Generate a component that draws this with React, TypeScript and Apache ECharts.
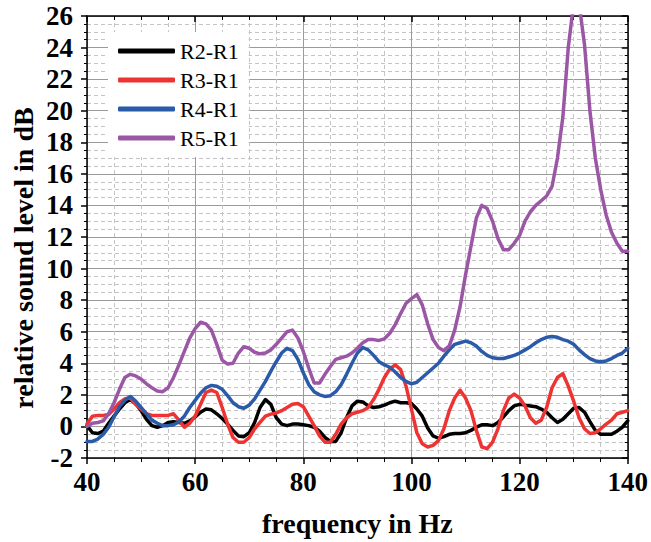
import React, { useEffect, useRef } from "react";
import * as echarts from "echarts";

const freqs: number[] = Array.from({ length: 101 }, (_, i) => 40 + i);

const r2r1: number[] = [
  0.05, -0.4, -0.45, -0.3, 0.2, 0.65, 1.1, 1.5, 1.7, 1.45,
  1.0, 0.45, 0.05, -0.05, 0.05, 0.25, 0.3, 0.25, 0.2, 0.35,
  0.6, 0.9, 1.1, 1.05, 0.8, 0.5, 0.15, -0.25, -0.6, -0.65,
  -0.4, 0.25, 1.2, 1.7, 1.4, 0.55, 0.15, 0.05, 0.15, 0.15,
  0.1, 0.05, -0.05, -0.3, -0.7, -0.95, -0.95, -0.4, 0.55, 1.3,
  1.6, 1.55, 1.3, 1.2, 1.25, 1.35, 1.5, 1.6, 1.5, 1.5,
  1.45, 1.1, 0.65, -0.1, -0.6, -0.75, -0.65, -0.5, -0.45, -0.45,
  -0.4, -0.25, -0.05, 0.1, 0.1, 0.05, 0.25, 0.6, 1.0, 1.3,
  1.4, 1.35, 1.3, 1.25, 1.1, 0.9, 0.55, 0.25, 0.45, 0.8,
  1.15, 1.2, 0.9, 0.3, -0.25, -0.5, -0.5, -0.5, -0.3, -0.05,
  0.35,
];

const r3r1: number[] = [
  0.15, 0.65, 0.7, 0.7, 0.75, 1.1, 1.5, 1.75, 1.8, 1.4,
  1.1, 0.8, 0.7, 0.7, 0.7, 0.7, 0.8, 0.4, -0.05, 0.2,
  0.65, 1.4, 2.15, 2.3, 2.15, 1.2, 0.15, -0.7, -1.0, -1.0,
  -0.7, -0.15, 0.25, 0.65, 0.78, 0.85, 1.0, 1.2, 1.4, 1.45,
  1.25, 0.65, 0.05, -0.6, -1.0, -1.0, -0.5, 0.15, 0.55, 0.8,
  0.9, 1.0, 1.2, 1.7, 2.35, 3.1, 3.65, 3.9, 3.6, 2.55,
  1.1, -0.4, -1.1, -1.3, -1.2, -0.9, -0.15, 1.0, 1.8, 2.3,
  1.8, 1.0, -0.25, -1.3, -1.4, -1.0, -0.15, 1.0, 1.8, 2.05,
  1.8, 1.3, 0.55, 0.2, 0.4, 1.2, 2.45, 3.1, 3.35, 2.55,
  1.6, 0.55, -0.15, -0.45, -0.4, -0.15, 0.15, 0.4, 0.8, 0.9,
  1.0,
];

const r4r1: number[] = [
  -0.95, -0.95, -0.8, -0.5, -0.05, 0.6, 1.25, 1.65, 1.9, 1.6,
  1.2, 0.8, 0.4, 0.2, 0.05, 0.05, 0.1, 0.3, 0.65, 1.2,
  1.65, 2.1, 2.45, 2.6, 2.55, 2.35, 1.95, 1.5, 1.25, 1.15,
  1.35, 1.75, 2.3, 2.85, 3.5, 4.1, 4.65, 4.95, 4.8, 4.25,
  3.4, 2.65, 2.2, 2.0, 1.9, 1.95, 2.2, 2.65, 3.3, 4.0,
  4.65, 5.0, 4.85, 4.5, 4.1, 3.9, 3.75, 3.45, 3.1, 2.85,
  2.7, 2.8, 3.1, 3.4, 3.7, 4.0, 4.45, 4.85, 5.2, 5.3,
  5.4, 5.3, 5.1, 4.75, 4.5, 4.35, 4.3, 4.3, 4.4, 4.5,
  4.65, 4.85, 5.05, 5.3, 5.5, 5.65, 5.7, 5.65, 5.5, 5.4,
  5.2, 4.85, 4.55, 4.3, 4.15, 4.1, 4.15, 4.3, 4.5, 4.65,
  4.95,
];

const r5r1: number[] = [
  0.0, 0.2, 0.25, 0.35, 0.8, 1.5, 2.35, 3.1, 3.3, 3.2,
  3.0, 2.7, 2.45, 2.25, 2.2, 2.45, 3.1, 3.9, 4.75, 5.6,
  6.2, 6.6, 6.5, 6.1, 5.2, 4.2, 3.95, 4.0, 4.65, 5.05,
  4.95, 4.7, 4.6, 4.65, 4.85, 5.2, 5.6, 6.0, 6.1, 5.6,
  4.75, 3.7, 2.75, 2.75, 3.3, 3.8, 4.25, 4.35, 4.45, 4.65,
  4.95, 5.3, 5.5, 5.5, 5.45, 5.55, 5.9, 6.45, 7.15, 7.8,
  8.1, 8.35, 7.7, 6.5, 5.5, 5.0, 4.8, 5.1, 6.1, 7.6,
  9.6, 11.4, 13.2, 14.0, 13.8, 13.0, 11.9, 11.2, 11.2, 11.6,
  12.1, 13.0, 13.6, 14.0, 14.3, 14.6, 15.2, 17.0, 19.6, 24.0,
  26.8, 26.8, 24.2, 20.0, 17.0, 15.0, 13.4, 12.3, 11.6, 11.1,
  11.1,
];

const seriesNames: string[] = ["R2-R1", "R3-R1", "R4-R1", "R5-R1"];
const seriesColors: string[] = ["#000000", "#ee3333", "#2a5aa8", "#9b57a6"];
const seriesValues: number[][] = [r2r1, r3r1, r4r1, r5r1];

const xTitle = "frequency in Hz";
const yTitle = "relative sound level in dB";

const FONT = "'Liberation Serif', 'Times New Roman', serif";

export default function App() {
  const ref = useRef<HTMLDivElement>(null);
  useEffect(() => {
    if (!ref.current) return;
    const chart = echarts.init(ref.current, undefined, { renderer: "svg" });
    const tickLabelStyle = {
      fontFamily: FONT,
      fontWeight: "bold" as const,
      fontSize: 27,
      color: "#000",
    };
    const nameStyle = {
      fontFamily: FONT,
      fontWeight: "bold" as const,
      fontSize: 28,
      color: "#000",
    };
    const majorGrid = { show: true, lineStyle: { color: "#9a9a9a", width: 1, type: "solid" as const } };
    const minorGrid = { show: true, lineStyle: { color: "#c4c4c4", width: 1, type: [4, 3] as any } };
    chart.setOption({
      animation: false,
      backgroundColor: "#fff",
      grid: { left: 87, right: 21, top: 16, bottom: 81 },
      graphic: [
        {
          type: "text",
          x: 23,
          y: 258,
          rotation: Math.PI / 2,
          style: {
            text: yTitle,
            fontFamily: FONT,
            fontWeight: "bold",
            fontSize: 28,
            fill: "#000",
            align: "center",
            verticalAlign: "middle",
          },
        },
      ],
      legend: {
        orient: "vertical",
        left: 108,
        top: 32,
        padding: [8, 10, 8, 10],
        itemGap: 7,
        itemWidth: 57,
        itemHeight: 5,
        icon: "roundRect",
        backgroundColor: "#fff",
        textStyle: { fontFamily: FONT, fontSize: 22, color: "#000" },
        data: seriesNames,
      },
      xAxis: [
        {
          type: "value",
          min: 40,
          max: 140,
          interval: 20,
          name: xTitle,
          nameLocation: "middle",
          nameGap: 51,
          nameTextStyle: { ...nameStyle },
          axisLine: { onZero: false, lineStyle: { color: "#000", width: 1.5 } },
          axisTick: { show: true, length: 6, lineStyle: { color: "#000", width: 1.5 } },
          minorTick: { show: true, splitNumber: 4, length: 4, lineStyle: { color: "#000", width: 1 } },
          axisLabel: { ...tickLabelStyle, margin: 10 },
          splitLine: majorGrid,
          minorSplitLine: minorGrid,
        },
        {
          type: "value",
          position: "top",
          min: 40,
          max: 140,
          interval: 20,
          axisLine: { onZero: false, lineStyle: { color: "#000", width: 1.5 } },
          axisTick: { show: true, inside: true, length: 6, lineStyle: { color: "#000", width: 1.5 } },
          minorTick: { show: true, splitNumber: 4, length: 4, lineStyle: { color: "#000", width: 1 } },
          axisLabel: { show: false },
          splitLine: { show: false },
        },
      ],
      yAxis: [
        {
          type: "value",
          min: -2,
          max: 26,
          interval: 2,
          axisLine: { onZero: false, lineStyle: { color: "#000", width: 1.5 } },
          axisTick: { show: true, length: 6, lineStyle: { color: "#000", width: 1.5 } },
          minorTick: { show: true, splitNumber: 4, length: 3, lineStyle: { color: "#000", width: 1 } },
          axisLabel: { ...tickLabelStyle, margin: 14 },
          splitLine: majorGrid,
          minorSplitLine: minorGrid,
        },
        {
          type: "value",
          position: "right",
          min: -2,
          max: 26,
          interval: 2,
          axisLine: { onZero: false, lineStyle: { color: "#000", width: 1.5 } },
          axisTick: { show: true, inside: true, length: 6, lineStyle: { color: "#000", width: 1.5 } },
          minorTick: { show: true, splitNumber: 4, length: 3, lineStyle: { color: "#000", width: 1 } },
          axisLabel: { show: false },
          splitLine: { show: false },
        },
      ],
      series: seriesNames.map((name, i) => ({
        name,
        type: "line",
        xAxisIndex: 0,
        yAxisIndex: 0,
        data: freqs.map((f, j) => [f, seriesValues[i][j]]),
        showSymbol: false,
        symbol: "none",
        clip: true,
        itemStyle: { color: seriesColors[i] },
        lineStyle: { color: seriesColors[i], width: 3.5, join: "round", cap: "round" },
        z: 2 + i,
      })),
    });
    return () => chart.dispose();
  }, []);
  return (
    <div
      ref={ref}
      style={{ position: "fixed", left: 0, top: 0, width: 651, height: 542 }}
    />
  );
}
